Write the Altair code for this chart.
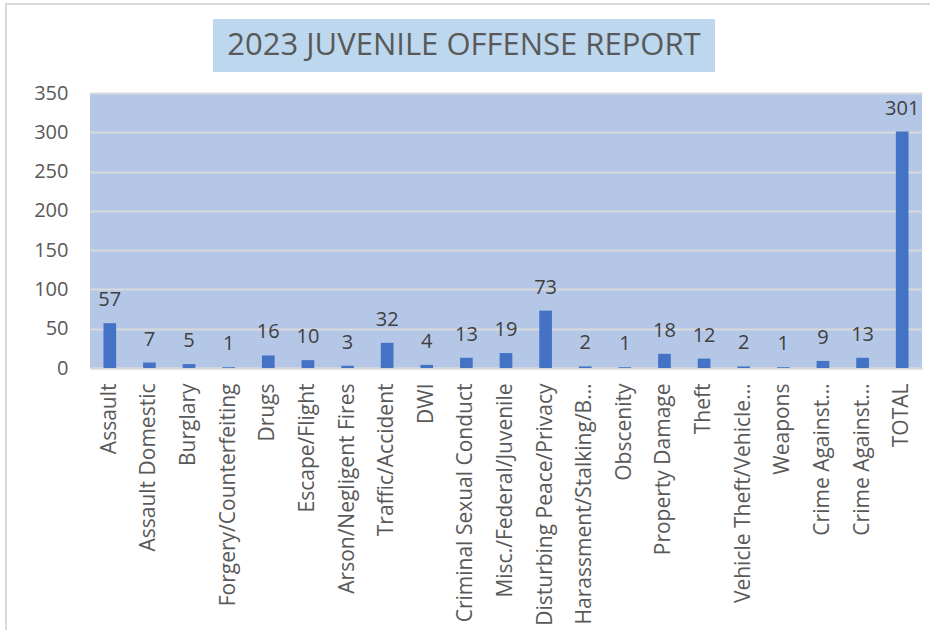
import altair as alt
import pandas as pd

labels = ["Assault", "Assault Domestic", "Burglary", "Forgery/Counterfeiting", "Drugs",
          "Escape/Flight", "Arson/Negligent Fires", "Traffic/Accident", "DWI",
          "Criminal Sexual Conduct", "Misc./Federal/Juvenile", "Disturbing Peace/Privacy",
          "Harassment/Stalking/B…", "Obscenity", "Property Damage", "Theft",
          "Vehicle Theft/Vehicle…", "Weapons", "Crime Against…", "Crime Against…", "TOTAL"]
values = [57, 7, 5, 1, 16, 10, 3, 32, 4, 13, 19, 73, 2, 1, 18, 12, 2, 1, 9, 13, 301]
y_ticks = [0, 50, 100, 150, 200, 250, 300, 350]
title_text = "2023 JUVENILE OFFENSE REPORT"

df = pd.DataFrame({"idx": list(range(len(labels))), "label": labels, "value": values})

FONT = "Open Sans"
GRAY = "#595959"
W, H = 832, 275
LEFT, TOP = 90, 93

label_expr = "[" + ",".join("'" + l + "'" for l in labels) + "][datum.value]"

x_enc = alt.X("idx:O", title=None,
              scale=alt.Scale(paddingInner=0.68, paddingOuter=0.34),
              axis=alt.Axis(labelExpr=label_expr, labelAngle=270, labelFont=FONT,
                            labelFontSize=21, labelColor=GRAY, labelPadding=15,
                            ticks=False, domain=True, domainColor="#D9D9D9", domainWidth=2,
                            labelLimit=300, labelOverlap=False))
y_enc = alt.Y("value:Q", title=None,
              scale=alt.Scale(domain=[0, 350], nice=False),
              axis=alt.Axis(values=y_ticks, labelFont=FONT, labelFontSize=20,
                            labelColor=GRAY, labelPadding=22, ticks=False, domain=False,
                            grid=True, gridColor="#D9D9D9", gridWidth=2, labelOverlap=False))

base = alt.Chart(df)

border = base.mark_rect(fill=None, stroke="#D9D9D9", strokeWidth=2).encode(
    x=alt.value(6 - LEFT), x2=alt.value(W + 60), y=alt.value(4 - TOP), y2=alt.value(H + 400)
).transform_filter("datum.idx == 0")

title_box = base.mark_rect(fill="#BDD7EE").encode(
    x=alt.value(213 - LEFT), x2=alt.value(715 - LEFT), y=alt.value(19 - TOP), y2=alt.value(72 - TOP)
).transform_filter("datum.idx == 0")

title = base.mark_text(font=FONT, fontSize=31, color=GRAY, align="center", baseline="middle").encode(
    x=alt.value(464 - LEFT), y=alt.value(46 - TOP), text=alt.value(title_text)
).transform_filter("datum.idx == 0")

bars = base.mark_bar(color="#4472C4").encode(x=x_enc, y=y_enc)

texts = base.mark_text(font=FONT, fontSize=20, color="#404040", baseline="alphabetic", dy=-17).encode(
    x=x_enc, y=y_enc, text=alt.Text("value:Q")
)

chart = alt.layer(border, title_box, title, bars, texts).properties(
    width=W, height=H,
    background="white",
    autosize=alt.AutoSizeParams(type="none"),
    padding={"left": LEFT, "top": TOP, "right": 8, "bottom": 630 - TOP - H},
).configure_view(fill="#B4C7E7", stroke=None, clip=False)

chart.save("out.html", embed_options={"renderer": "svg", "actions": False})
